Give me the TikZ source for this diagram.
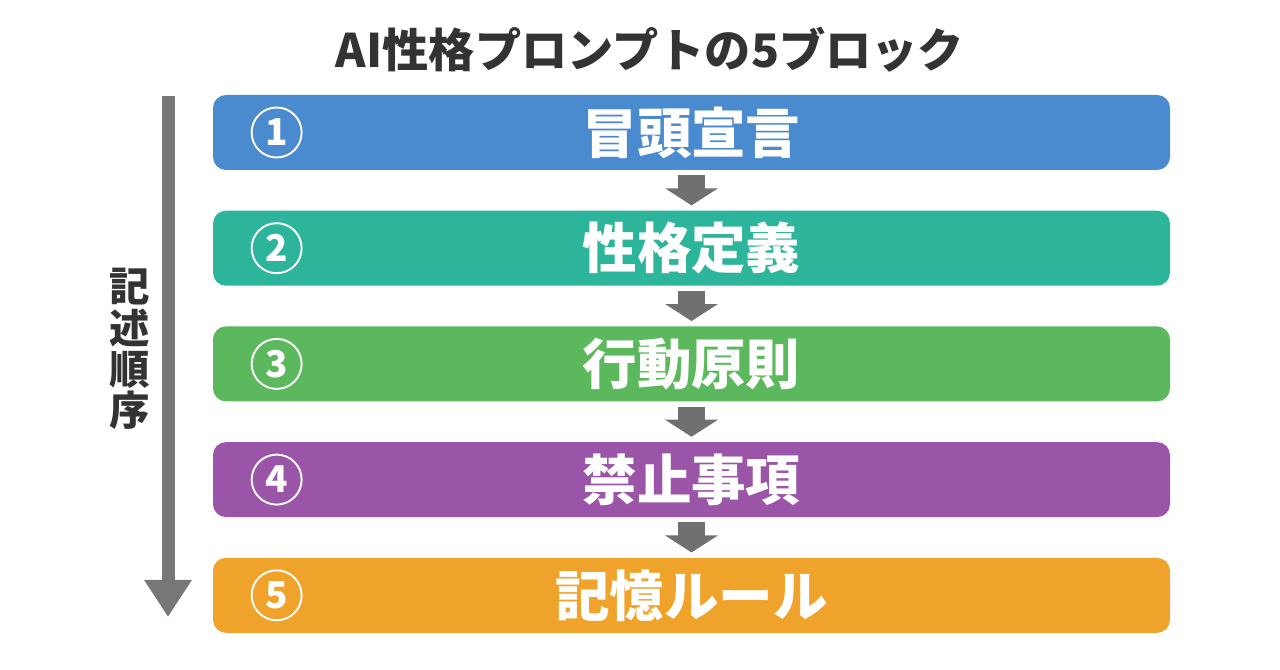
\documentclass[tikz,border=0pt]{standalone}
\usepackage{fontspec}
\setmainfont{Noto Sans CJK JP}
\usepackage{xcolor}
\usetikzlibrary{positioning,arrows.meta}

\definecolor{blockblue}{HTML}{4A8BD0}
\definecolor{blockteal}{HTML}{2DB59B}
\definecolor{blockgreen}{HTML}{5CB85C}
\definecolor{blockpurple}{HTML}{9A55A8}
\definecolor{blockorange}{HTML}{F0A32A}
\definecolor{titlegray}{HTML}{333333}
\definecolor{arrowgray}{HTML}{707070}

\begin{document}
\begin{tikzpicture}[font=\bfseries,
    block/.style={fill=#1, rounded corners=0.26cm, minimum width=19.14cm, minimum height=1.5cm,
      text=white, font=\fontsize{31}{33}\selectfont\bfseries},
    num/.style={circle, draw=white, line width=1.1pt, minimum size=1cm, inner sep=0pt,
      text=white, font=\fontsize{21}{21}\selectfont\bfseries},
    flowarrow/.style={draw=arrowgray, line width=0.54cm, shorten <=0.1cm, shorten >=0.1cm,
      -{Triangle[width=1.04cm,length=0.34cm]}},
    orderarrow/.style={draw=arrowgray!95, line width=0.26cm, -{Triangle[width=0.9cm,length=0.74cm]}}
    ]
    \useasboundingbox (0,0) rectangle (25.6,13.4);

    \node[text=titlegray, font=\fontsize{26.3}{28}\selectfont\bfseries] (title) at (13.0,12.4) {AI性格プロンプトの5ブロック};

    \node[block=blockblue] (b1) at (13.83,10.75) {冒頭宣言};
    \node[block=blockteal, below=0.8cm of b1] (b2) {性格定義};
    \node[block=blockgreen, below=0.8cm of b2] (b3) {行動原則};
    \node[block=blockpurple, below=0.8cm of b3] (b4) {禁止事項};
    \node[block=blockorange, below=0.8cm of b4] (b5) {記憶ルール};

    \node[num] (n1) at ([xshift=1.28cm]b1.west) {1};
    \node[num] (n2) at ([xshift=1.28cm]b2.west) {2};
    \node[num] (n3) at ([xshift=1.28cm]b3.west) {3};
    \node[num] (n4) at ([xshift=1.28cm]b4.west) {4};
    \node[num] (n5) at ([xshift=1.28cm]b5.west) {5};

    \draw[flowarrow] (b1.south) -- (b2.north);
    \draw[flowarrow] (b2.south) -- (b3.north);
    \draw[flowarrow] (b3.south) -- (b4.north);
    \draw[flowarrow] (b4.south) -- (b5.north);

    % reading order on the left
    \coordinate (ordertop) at (3.36,11.48);
    \coordinate (orderend) at (3.36,1.06);
    \draw[orderarrow] (ordertop) -- (orderend);
    \node[text=titlegray, align=center, font=\fontsize{23}{23.5}\selectfont\bfseries] (order) at (2.6,6.42) {記\\述\\順\\序};
\end{tikzpicture}
\end{document}
